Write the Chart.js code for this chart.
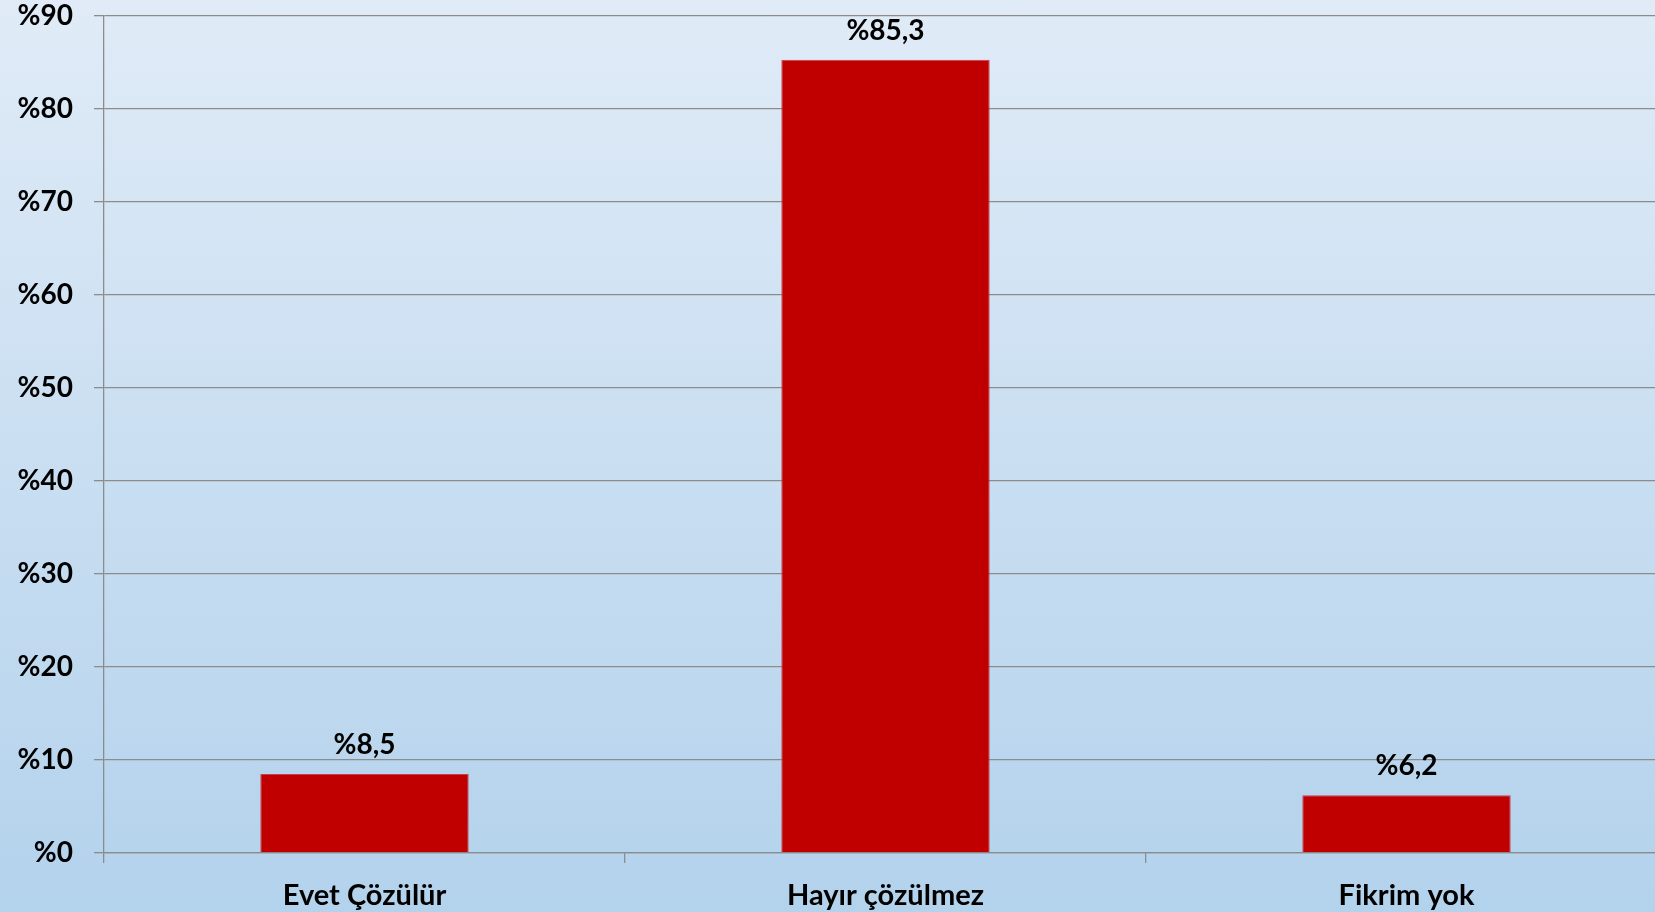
<!DOCTYPE html>
<html>
<head>
<meta charset="utf-8">
<script src="https://cdn.jsdelivr.net/npm/chart.js@4/dist/chart.umd.min.js"></script>
<style>
html,body{margin:0;padding:0;overflow:hidden;width:1655px;height:912px;}
#wrap{width:1667px;height:912px;overflow:hidden;background:linear-gradient(to bottom,#e0ebf7 0%,#b3d2ec 100%);}
#c{display:block;margin-top:-19px;}
</style>
</head>
<body>
<div id="wrap"><canvas id="c" width="1667" height="931"></canvas></div>
<script>
const categories = ["Evet Çözülür", "Hayır çözülmez", "Fikrim yok"];
const values = [8.5, 85.3, 6.2];
const valueLabels = ["%8,5", "%85,3", "%6,2"];
const yTickMax = 90;
const yTickStep = 10;

const labelPlugin = {
  id: 'valueLabels',
  afterDatasetsDraw(chart) {
    const ctx = chart.ctx;
    const meta = chart.getDatasetMeta(0);
    ctx.save();
    ctx.font = 'bold 28px Lato';
    ctx.fillStyle = '#000';
    ctx.textAlign = 'center';
    ctx.textBaseline = 'alphabetic';
    meta.data.forEach((bar, i) => {
      ctx.fillText(valueLabels[i], bar.x, bar.y - 20);
    });
    ctx.restore();
  }
};

new Chart(document.getElementById('c'), {
  type: 'bar',
  data: {
    labels: categories,
    datasets: [{
      data: values,
      backgroundColor: '#c00000',
      borderColor: '#c8404a',
      borderWidth: 1,
      categoryPercentage: 1.0,
      barPercentage: 0.4
    }]
  },
  options: {
    responsive: false,
    animation: false,
    layout: { padding: { top: -17, left: 0, right: 0, bottom: 0 } },
    plugins: { legend: { display: false }, tooltip: { enabled: false } },
    scales: {
      x: {
        afterFit(scale) { scale.height = 59; },
        grid: { drawOnChartArea: false, drawTicks: true, tickLength: 10, color: '#8c8c8c', lineWidth: 1.3 },
        border: { display: true, color: '#8c8c8c', width: 1.3 },
        ticks: { color: '#000', font: { family: 'Lato', weight: 'bold', size: 29 }, padding: 15 }
      },
      y: {
        min: 0, max: yTickMax,
        afterFit(scale) { scale.width = 104; },
        grid: { color: '#8c8c8c', lineWidth: 1.3, tickLength: 10 },
        border: { display: true, color: '#8c8c8c', width: 1.3 },
        ticks: {
          stepSize: yTickStep,
          color: '#000',
          padding: 21,
          font: { family: 'Lato', weight: 'bold', size: 28, lineHeight: 1.0 },
          callback: v => '%' + v
        }
      }
    }
  },
  plugins: [labelPlugin]
});
</script>
</body>
</html>
